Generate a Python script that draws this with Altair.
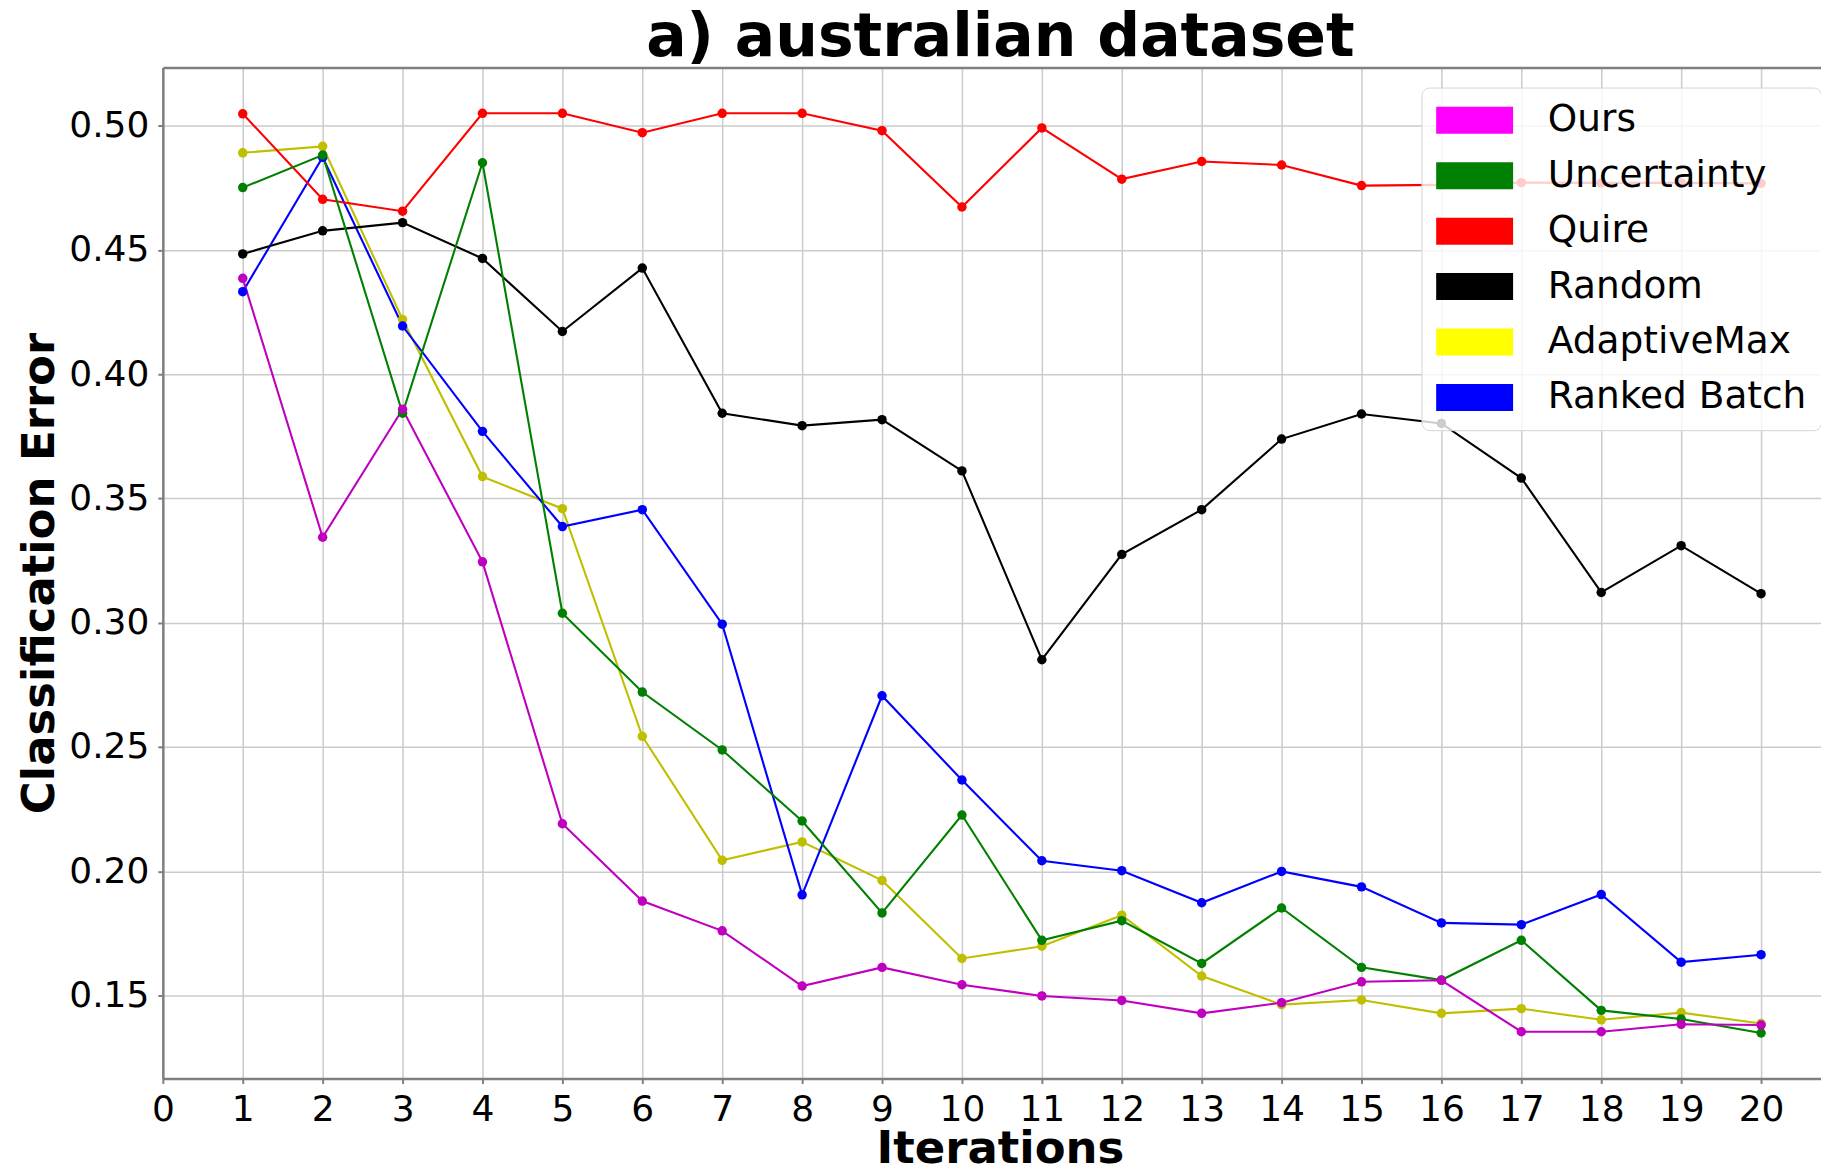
import altair as alt
import pandas as pd

iterations = list(range(1, 21))
series_names = ["Ours", "Uncertainty", "Quire", "Random", "AdaptiveMax", "Ranked Batch"]
line_colors = ["#bf00bf", "#008000", "#ff0000", "#000000", "#bfbf00", "#0000ff"]
legend_colors = ["#ff00ff", "#008000", "#ff0000", "#000000", "#ffff00", "#0000ff"]

ours = [0.4386, 0.3344, 0.3859, 0.3245, 0.2191, 0.1880, 0.1760, 0.1538, 0.1613, 0.1543,
        0.1498, 0.1480, 0.1428, 0.1471, 0.1555, 0.1561, 0.1354, 0.1354, 0.1384, 0.1381]
uncertainty = [0.4751, 0.4882, 0.3843, 0.4851, 0.3038, 0.2721, 0.2488, 0.2202, 0.1832, 0.2226,
               0.1722, 0.1801, 0.1629, 0.1852, 0.1613, 0.1562, 0.1722, 0.1440, 0.1405, 0.1349]
quire = [0.5048, 0.4704, 0.4656, 0.5050, 0.5050, 0.4972, 0.5050, 0.5050, 0.4980, 0.4673,
         0.4991, 0.4785, 0.4856, 0.4842, 0.4759, 0.4762, 0.4771, 0.4770, 0.4770, 0.4768]
random_sel = [0.4484, 0.4577, 0.4610, 0.4466, 0.4172, 0.4427, 0.3843, 0.3793, 0.3817, 0.3611,
              0.2851, 0.3275, 0.3455, 0.3739, 0.3840, 0.3802, 0.3582, 0.3122, 0.3310, 0.3117]
adaptive_max = [0.4891, 0.4917, 0.4220, 0.3588, 0.3459, 0.2543, 0.2044, 0.2118, 0.1963, 0.1649,
                0.1698, 0.1823, 0.1578, 0.1463, 0.1482, 0.1428, 0.1447, 0.1402, 0.1431, 0.1387]
ranked_batch = [0.4332, 0.4873, 0.4194, 0.3770, 0.3387, 0.3455, 0.2994, 0.1905, 0.2706, 0.2367,
                0.2042, 0.2002, 0.1873, 0.1999, 0.1937, 0.1792, 0.1785, 0.1906, 0.1634, 0.1664]

x_ticks = list(range(0, 21))
y_ticks = [0.15, 0.20, 0.25, 0.30, 0.35, 0.40, 0.45, 0.50]

chart_title = "a) australian dataset"
x_title = "Iterations"
y_title = "Classification Error"

values = {
    "Ours": ours,
    "Uncertainty": uncertainty,
    "Quire": quire,
    "Random": random_sel,
    "AdaptiveMax": adaptive_max,
    "Ranked Batch": ranked_batch,
}
draw_order = ["AdaptiveMax", "Ranked Batch", "Quire", "Random", "Uncertainty", "Ours"]
rows = [
    {"Iteration": it, "Error": v, "Method": m}
    for m in draw_order
    for it, v in zip(iterations, values[m])
]
df = pd.DataFrame(rows)

x_scale = alt.Scale(domain=[0, 20.75], nice=False, zero=False)
y_scale = alt.Scale(domain=[0.1166, 0.5234], nice=False, zero=False)

line_color = alt.Color(
    "Method:N",
    scale=alt.Scale(domain=series_names, range=line_colors),
    legend=None,
)

y_enc = alt.Y(
    "Error:Q",
    scale=y_scale,
    axis=alt.Axis(
        values=y_ticks,
        format=".2f",
        title=y_title,
        titleX=-109,
        titleY=506,
        titleBaseline="alphabetic",
        titleAlign="center",
        labelPadding=9,
        labelFlush=False,
        grid=True,
    ),
)

x_bottom = alt.X(
    "Iteration:Q",
    scale=x_scale,
    axis=alt.Axis(
        values=x_ticks,
        format="d",
        title=x_title,
        titleX=838,
        titleY=84,
        titleBaseline="alphabetic",
        titleAlign="center",
        labelPadding=9,
        labelOverlap=False,
        labelFlush=False,
        grid=True,
    ),
)

base = alt.Chart(df)

lines = base.mark_line(strokeWidth=2.1).encode(x=x_bottom, y=y_enc, color=line_color)

points = base.mark_circle(size=90, opacity=1).encode(
    x=alt.X("Iteration:Q", scale=x_scale, axis=None),
    y=y_enc,
    color=line_color,
)

rect_path = "M-2.852,-1L2.852,-1L2.852,1L-2.852,1Z"

legend_layer = base.mark_circle(opacity=0).encode(
    x=alt.X(
        "Iteration:Q",
        scale=x_scale,
        axis=alt.Axis(
            orient="top",
            labels=False,
            ticks=False,
            grid=False,
            domain=True,
            title=chart_title,
            titleFontSize=60,
            titleX=838,
            titleY=-12,
            titleBaseline="alphabetic",
            titleAlign="center",
        ),
    ),
    y=y_enc,
    color=alt.Color(
        "Method:N",
        scale=alt.Scale(domain=series_names, range=legend_colors),
        legend=alt.Legend(
            orient="none",
            legendX=1260,
            legendY=20,
            title=None,
            symbolType=rect_path,
            symbolSize=729,
            symbolStrokeWidth=0,
            symbolOpacity=1,
            symbolOffset=20.5,
            labelOffset=54.5,
            rowPadding=16.5,
            padding=14,
            fillColor="rgba(255,255,255,0.8)",
            strokeColor="#d4d4d4",
            cornerRadius=8,
            labelFont="DejaVu Sans",
            labelFontSize=37.5,
            labelColor="black",
            labelLimit=0,
        ),
    ),
)

chart = (
    alt.layer(lines, points, legend_layer)
    .resolve_scale(color="independent")
    .resolve_axis(x="independent")
    .properties(
        width=1660,
        height=1012,
        autosize=alt.AutoSizeParams(type="none"),
        padding={"left": 155, "top": 59, "right": 0, "bottom": 87},
    )
    .configure_view(stroke="transparent")
    .configure_axis(
        labelFont="DejaVu Sans",
        labelFontSize=36,
        labelColor="black",
        titleFont="DejaVu Sans",
        titleFontSize=45,
        titleFontWeight="bold",
        titleColor="black",
        domainColor="#7f7f7f",
        domainWidth=2.5,
        tickColor="#7f7f7f",
        tickSize=5,
        tickWidth=2,
        gridColor="#cbcbcb",
        gridWidth=1.5,
    )
)

chart.save("out.html", embed_options={"renderer": "svg", "actions": False})
